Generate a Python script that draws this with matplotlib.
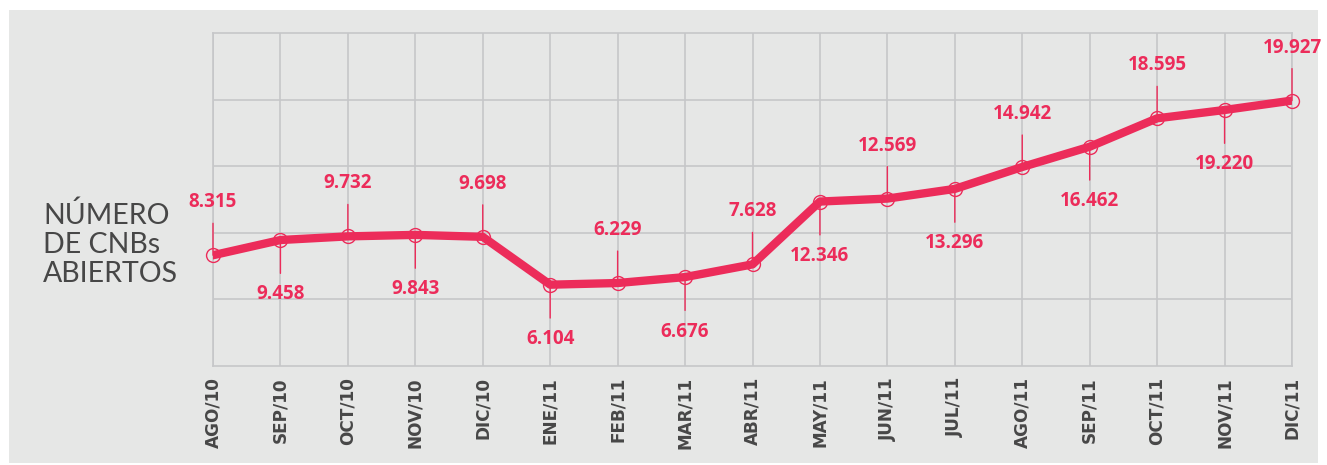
import matplotlib
matplotlib.use("Agg")
import matplotlib.pyplot as plt
from matplotlib.patches import Rectangle

months = ["AGO/10", "SEP/10", "OCT/10", "NOV/10", "DIC/10", "ENE/11", "FEB/11", "MAR/11",
          "ABR/11", "MAY/11", "JUN/11", "JUL/11", "AGO/11", "SEP/11", "OCT/11", "NOV/11", "DIC/11"]
values = [8315, 9458, 9732, 9843, 9698, 6104, 6229, 6676,
          7628, 12346, 12569, 13296, 14942, 16462, 18595, 19220, 19927]
labels = ["8.315", "9.458", "9.732", "9.843", "9.698", "6.104", "6.229", "6.676",
          "7.628", "12.346", "12.569", "13.296", "14.942", "16.462", "18.595", "19.220", "19.927"]
label_above = [True, False, True, False, True, False, True, False,
               True, False, True, False, True, False, True, False, True]

PINK = "#EC2C5A"
GRID = "#C6C7C9"
BG = "#E6E7E6"
DARK = "#474747"

W, H = 1327, 465
fig = plt.figure(figsize=(W / 100, H / 100), dpi=100)
fig.patch.set_facecolor("white")
fig.patches.append(Rectangle((9 / W, 2 / H), (1318 - 9) / W, (463 - 10) / H,
                             transform=fig.transFigure, facecolor=BG, edgecolor="none", zorder=-5))

ax = fig.add_axes([213 / W, 1 - 366 / H, (1292 - 213) / W, (366 - 33) / H])
ax.set_zorder(1)
ax.set_facecolor(BG)
x = list(range(len(months)))
ax.set_xlim(0, len(months) - 1)
ax.set_ylim(0, 25000)
ax.set_xticks(x)
ax.set_xticklabels(months, rotation=90, fontsize=12.2, fontweight="bold", color=DARK,
                   family="DejaVu Sans")
ax.set_yticks([5000, 10000, 15000, 20000])
ax.set_yticklabels([])
ax.tick_params(length=0, pad=8)
ax.grid(True, color=GRID, lw=1.2)
ax.set_axisbelow(True)
for s in ax.spines.values():
    s.set_color(GRID)
    s.set_linewidth(1.2)

ax.plot(x, values, color=PINK, lw=6, solid_joinstyle="round", zorder=3)
ax.plot(x, values, linestyle="none", marker="o", markersize=10, markerfacecolor="none",
        markeredgecolor=PINK, markeredgewidth=1, zorder=4, clip_on=False)

for xi, v, lab, up in zip(x, values, labels, label_above):
    off = 31 if up else -32
    ax.annotate(lab, xy=(xi, v), xytext=(0, off), textcoords="offset points",
                ha="center", va="bottom" if up else "top",
                fontsize=13.5, fontweight="bold", family="Open Sans", color=PINK,
                arrowprops=dict(arrowstyle="-", color=PINK, lw=1,
                                relpos=(0.5, 0) if up else (0.5, 1),
                                shrinkA=6, shrinkB=0),
                zorder=5, annotation_clip=False)

fig.text(43 / W, 1 - 244 / H, "NÚMERO\nDE CNBs\nABIERTOS", ha="left", va="center",
         fontsize=20.5, family="Lato", fontweight="normal", color=DARK, linespacing=1.15)

fig.savefig("out.png", dpi=100, facecolor="white")
